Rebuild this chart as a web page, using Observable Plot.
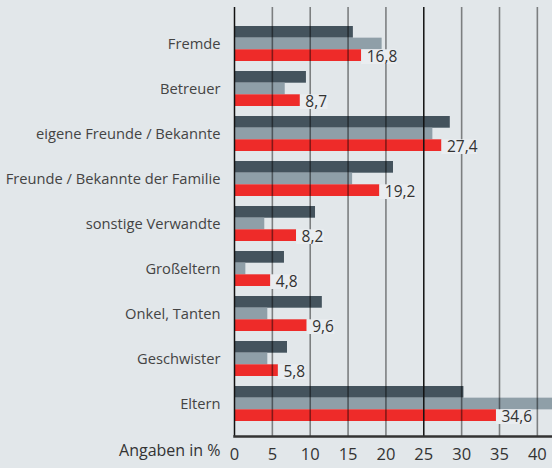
<!DOCTYPE html>
<html><head><meta charset="utf-8">
<script src="https://cdn.jsdelivr.net/npm/d3@7"></script>
<script src="https://cdn.jsdelivr.net/npm/@observablehq/plot@0.6"></script>
<style>
html,body{margin:0;padding:0;background:#e2e7ea;}
#chart svg{display:block;}
</style></head><body><div id="chart"></div>
<script>
const categories = ["Fremde","Betreuer","eigene Freunde / Bekannte","Freunde / Bekannte der Familie","sonstige Verwandte","Großeltern","Onkel, Tanten","Geschwister","Eltern"];
const seriesDark = [15.7, 9.5, 28.5, 21.0, 10.7, 6.6, 11.6, 7.0, 30.3];
const seriesGray = [19.5, 6.7, 26.2, 15.6, 4.0, 1.5, 4.4, 4.4, 44.0];
const seriesRed  = [16.8, 8.7, 27.4, 19.2, 8.2, 4.8, 9.6, 5.8, 34.6];
const xTicks = [0, 5, 10, 15, 20, 25, 30, 35, 40];
const axisTitle = "Angaben in %";

const colDark = "#44535d", colGray = "#8f9fa8", colRed = "#ee2b29";
const W = 552, H = 468, mt = 7, mb = 32, ml = 234, mr = 0;
const pInner = 0.23, pOuter = 0.34;
const step = (H - mt - mb) / (categories.length - pInner + 2 * pOuter);
const third = step * (1 - pInner) / 3;

const fmt = v => String(v.toFixed(1)).replace(".", ",");
const data = categories.map((c, i) => ({cat: c, dark: seriesDark[i], gray: seriesGray[i], red: seriesRed[i], label: fmt(seriesRed[i])}));

const chart = Plot.plot({
  width: W, height: H,
  marginLeft: ml, marginRight: mr, marginTop: mt, marginBottom: mb,
  style: {background: "#e2e7ea", fontFamily: "'Open Sans', sans-serif", color: "#333", overflow: "visible"},
  x: {domain: [0, 42], axis: null},
  y: {domain: categories, paddingInner: pInner, paddingOuter: pOuter, align: 0.55, axis: null},
  marks: [
    Plot.barX(data, {x: "dark", y: "cat", fill: colDark, insetBottom: 2 * third}),
    Plot.barX(data, {x: "gray", y: "cat", fill: colGray, insetTop: third, insetBottom: third}),
    Plot.barX(data, {x: "red", y: "cat", fill: colRed, insetTop: 2 * third}),
    Plot.ruleX(xTicks.filter(v => v !== 0 && v !== 25), {stroke: "#000", strokeOpacity: 0.45, strokeWidth: 1.6}),
    Plot.ruleX([0, 25], {stroke: "#111", strokeWidth: 1.5}),
    Plot.barX(data, {x1: "red", x2: d => d.red + 0.5 + 1.05 * d.label.length, y: "cat", fill: "#eaedf0", insetTop: 2 * third, insetBottom: -3}),
    Plot.text(data, {x: "red", y: "cat", text: "label", dx: 5, dy: third + 1.5, textAnchor: "start", fontSize: 15.5, fill: "#333"}),
    Plot.frame({anchor: "bottom", stroke: "#333", strokeWidth: 2.5}),
    Plot.axisX({ticks: xTicks, tickSize: 0, tickPadding: 12, fontSize: 16.5, label: null, fill: "#333"}),
    Plot.axisY({tickSize: 0, tickPadding: 14, fontSize: 14.7, label: null, fill: "#444"}),
    Plot.text([axisTitle], {frameAnchor: "bottom-left", dx: -14, dy: 19, textAnchor: "end", fontSize: 16, fill: "#333"})
  ]
});
document.getElementById("chart").appendChild(chart);
</script></body></html>
